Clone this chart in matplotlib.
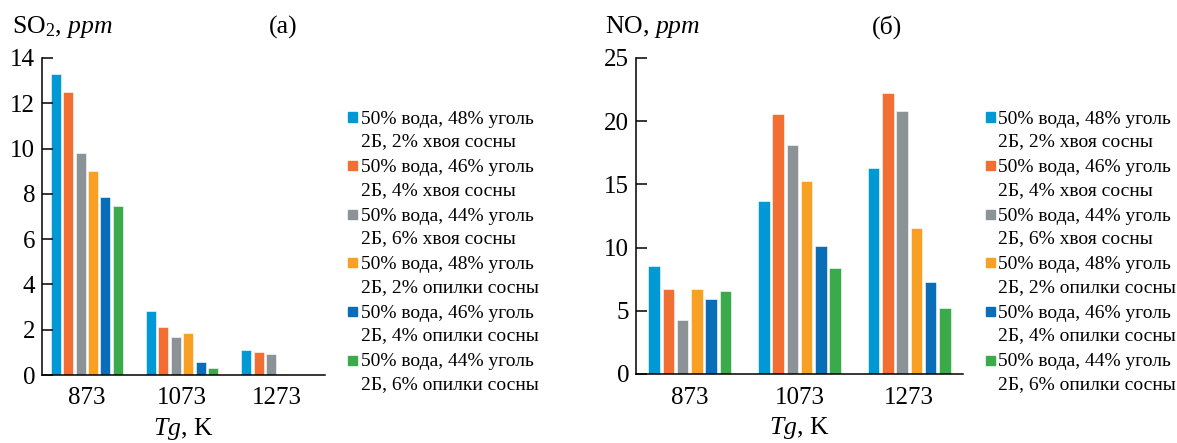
import numpy as np
import matplotlib
matplotlib.use('Agg')
import matplotlib.pyplot as plt
from matplotlib.patches import Rectangle

plt.rcParams['font.family'] = ['Liberation Serif', 'DejaVu Serif']
plt.rcParams['mathtext.fontset'] = 'custom'
plt.rcParams['mathtext.rm'] = 'Liberation Serif'
plt.rcParams['mathtext.it'] = 'Liberation Serif:italic'

# данные
temps = ['873', '1073', '1273']
labels = [
    '50% вода, 48% уголь\n2Б, 2% хвоя сосны',
    '50% вода, 46% уголь\n2Б, 4% хвоя сосны',
    '50% вода, 44% уголь\n2Б, 6% хвоя сосны',
    '50% вода, 48% уголь\n2Б, 2% опилки сосны',
    '50% вода, 46% уголь\n2Б, 4% опилки сосны',
    '50% вода, 44% уголь\n2Б, 6% опилки сосны',
]
colors = ['#0099d6', '#f26e33', '#8c9396', '#f7a023', '#0a6db7', '#3baa4b']

so2 = [
    [13.28, 2.84, 1.12],
    [12.48, 2.14, 1.03],
    [9.81, 1.67, 0.94],
    [9.02, 1.87, 0.06],
    [7.84, 0.59, 0.0],
    [7.47, 0.32, 0.0],
]
no = [
    [8.53, 13.71, 16.29],
    [6.74, 20.55, 22.24],
    [4.26, 18.08, 20.84],
    [6.74, 15.24, 11.55],
    [5.92, 10.13, 7.29],
    [6.58, 8.39, 5.21],
]

W, H = 1177, 443
fig = plt.figure(figsize=(W / 100, H / 100), dpi=100)
ax1 = fig.add_axes([42 / W, 1 - 375 / H, (325 - 42) / W, (375 - 58) / H])
ax2 = fig.add_axes([636 / W, 1 - 374 / H, (963 - 636) / W, (374 - 58) / H])

x = np.arange(len(temps))
slot, width = 0.13, 0.105


def draw(ax, data, ymax, ystep, xlim):
    for i, (vals, c) in enumerate(zip(data, colors)):
        ax.bar(x + (i - 2.5) * slot, vals, width, color=c,
               edgecolor='white', linewidth=0.4)
    ax.set_xlim(*xlim)
    ax.set_ylim(0, ymax)
    ax.set_yticks(np.arange(0, ymax + 0.1, ystep))
    ax.set_xticks(x)
    ax.set_xticklabels(temps)
    for s in ['top', 'right']:
        ax.spines[s].set_visible(False)
    for s in ['left', 'bottom']:
        ax.spines[s].set_linewidth(1.1)
    ax.tick_params(axis='y', direction='in', length=8, width=1.1,
                   labelsize=18, pad=5)
    ax.tick_params(axis='x', length=0, labelsize=18, pad=9)
    ax.set_xlabel(r'$\it{Tg}$, K', fontsize=18.5, labelpad=5)


draw(ax1, so2, 14, 2, (-0.47, 2.5))
draw(ax2, no, 25, 5, (-0.49, 2.49))

fig.text(12 / W, 1 - 27 / H, r'SO$_2$, $\it{ppm}$', fontsize=18.5, va='center')
fig.text(283 / W, 1 - 27 / H, '(а)', fontsize=18.5, va='center', ha='center')
fig.text(605 / W, 1 - 27 / H, r'NO, $\it{ppm}$', fontsize=18.5, va='center')
fig.text(887 / W, 1 - 27 / H, '(б)', fontsize=18.5, va='center', ha='center')


# легенда: квадрат у первой строки, две строки текста
def legend(x_mark, x_text, y_first):
    for i, (lbl, c) in enumerate(zip(labels, colors)):
        y = y_first + i * 48.6
        fig.patches.append(Rectangle(((x_mark) / W, 1 - (y + 4.5) / H),
                                     9 / W, 9 / H, color=c,
                                     transform=fig.transFigure))
        for j, line in enumerate(lbl.split('\n')):
            fig.text(x_text / W, 1 - (y + 2 + j * 22.5) / H, line,
                     fontsize=14, va='center', ha='left')


legend(348, 361, 117)
legend(986, 998, 117)

fig.savefig('out.png', dpi=100)
